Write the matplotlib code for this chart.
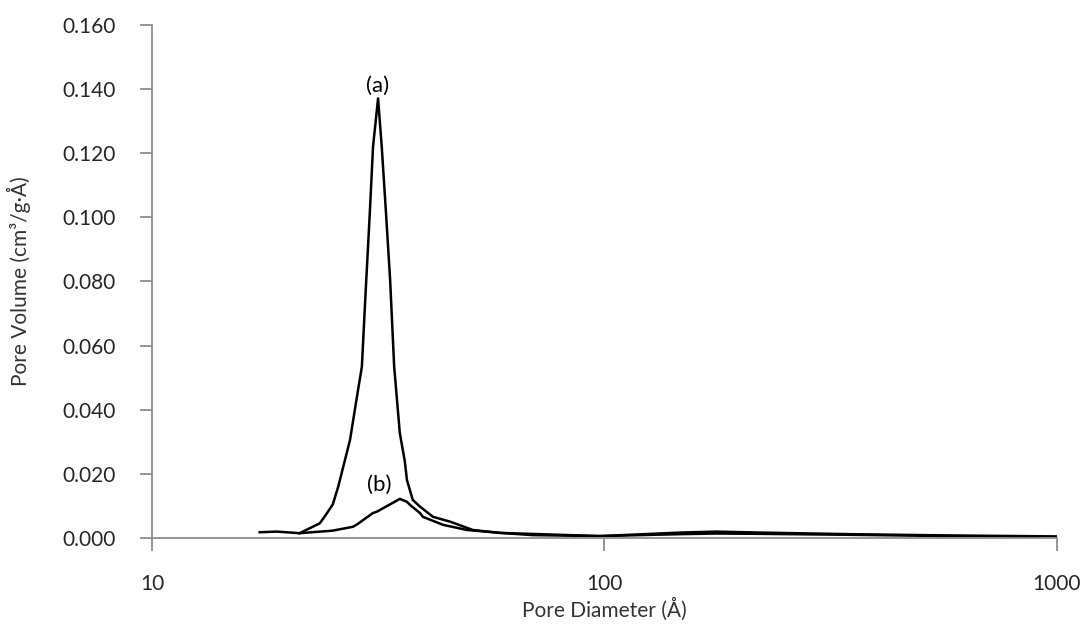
import matplotlib.pyplot as plt

# pore diameter (A) and pore volume (cm3/g.A)
d_a = [21.2, 23.5, 24.3, 25.1, 25.8, 27.4, 28.3, 29.1, 29.6, 30.3, 30.8, 31.6,
       32.2, 32.9, 33.6, 34.3, 35.3, 36.2, 36.6, 37.7, 39.1, 41.8, 45.6, 51.2,
       58.8, 69.5, 97.7, 147, 177, 221, 349, 580, 1000]
v_a = [0.0015, 0.0046, 0.0075, 0.0105, 0.0160, 0.0306, 0.0430, 0.0534, 0.0742,
       0.1014, 0.1220, 0.1371, 0.1220, 0.1014, 0.0805, 0.0534, 0.0327, 0.0240,
       0.0181, 0.0119, 0.0098, 0.0066, 0.0051, 0.0025, 0.0016, 0.0009, 0.0006,
       0.0017, 0.0020, 0.0017, 0.0012, 0.0008, 0.0005]

d_b = [17.3, 18.9, 21.2, 25.1, 27.8, 28.3, 30.8, 31.4, 35.0, 35.3, 36.6, 37.2,
       39.1, 39.7, 44.0, 49.7, 58.8, 97.7, 147, 177, 221, 349, 580, 917]
v_b = [0.0018, 0.0020, 0.0015, 0.0023, 0.0035, 0.0041, 0.0078, 0.0082, 0.0119,
       0.0122, 0.0113, 0.0103, 0.0078, 0.0066, 0.0041, 0.0025, 0.0016, 0.0006,
       0.0012, 0.0014, 0.0013, 0.0010, 0.0006, 0.0004]

y_ticks = [0.0, 0.02, 0.04, 0.06, 0.08, 0.10, 0.12, 0.14, 0.16]
x_ticks = [10, 100, 1000]

plt.rcParams['font.family'] = ['Lato', 'DejaVu Sans']

fig = plt.figure(figsize=(10.9, 6.34), dpi=100)
ax = fig.add_axes([0.1394, 0.1514, 0.8303, 0.8092])

ax.plot(d_a, v_a, color='black', lw=1.8)
ax.plot(d_b, v_b, color='black', lw=1.8)

ax.set_xscale('log')
ax.set_xlim(10, 1000)
ax.set_ylim(0, 0.16)
ax.set_xticks(x_ticks)
ax.set_xticklabels([str(t) for t in x_ticks])
ax.minorticks_off()
ax.set_yticks(y_ticks)
ax.set_yticklabels(['%.3f' % t for t in y_ticks])

grey = '#8c8c8c'
for s in ['top', 'right']:
    ax.spines[s].set_visible(False)
for s in ['left', 'bottom']:
    ax.spines[s].set_color(grey)
    ax.spines[s].set_linewidth(1.3)
ax.tick_params(axis='both', colors=grey, labelcolor='#262626', labelsize=15,
               length=9, width=1.3, pad=17)

ax.set_xlabel('Pore Diameter (Å)', fontsize=15, color='#333333')
ax.set_ylabel('Pore Volume (cm³/g·Å)', fontsize=15, color='#333333')
ax.xaxis.set_label_coords(0.5, -0.117)
ax.yaxis.set_label_coords(-0.134, 0.5)

ax.text(31.6, 0.1378, '(a)', fontsize=16, ha='center', va='bottom')
ax.text(31.8, 0.0135, '(b)', fontsize=16, ha='center', va='bottom')

fig.savefig('out.png', dpi=100)
